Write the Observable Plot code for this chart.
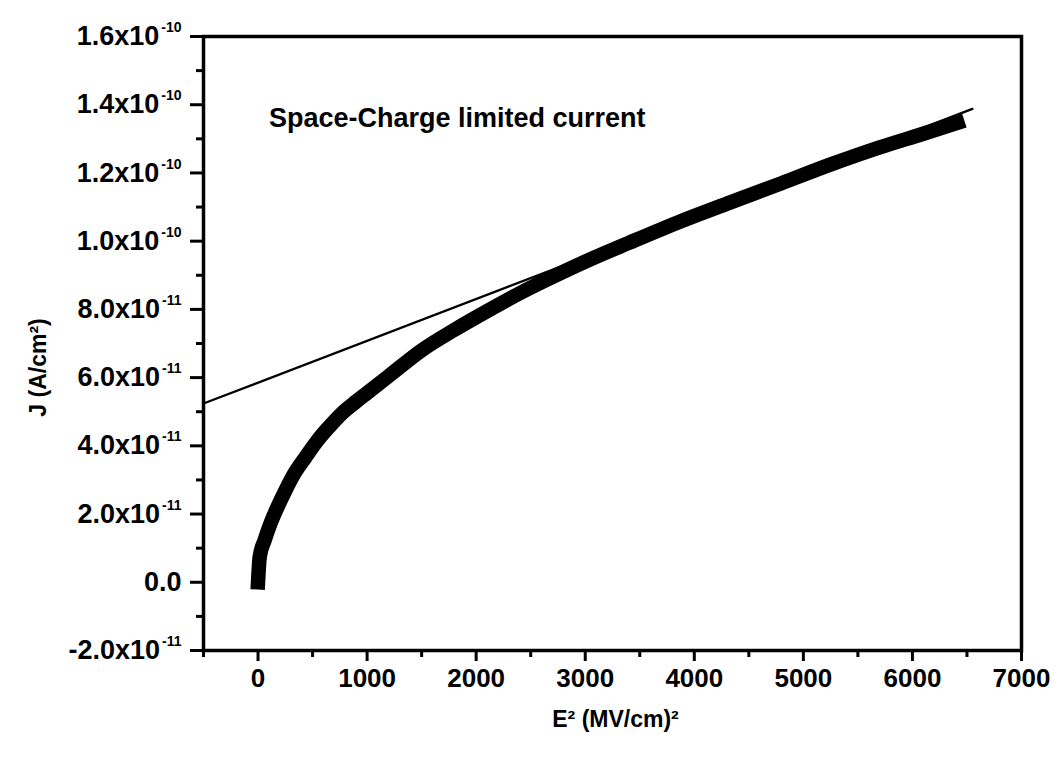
<!DOCTYPE html>
<html>
<head>
<meta charset="utf-8">
<script src="https://cdn.jsdelivr.net/npm/d3@7"></script>
<script src="https://cdn.jsdelivr.net/npm/@observablehq/plot@0.6"></script>
<style>
  html, body { margin: 0; padding: 0; background: #fff; }
  svg { font-family: "Liberation Sans", Arial, sans-serif; font-weight: bold; }
</style>
</head>
<body>
<div id="chart"></div>
<script>
// Measured data: E^2 in (MV/cm)^2, J in units of 1e-11 A/cm^2
const e2Values = [0, 15, 60, 115, 178, 252, 335, 436, 546, 650, 768, 900, 1000, 1200, 1500, 1800, 2100, 2415, 2700, 3000, 3400, 3850, 4300, 4800, 5252, 5700, 6100, 6413];
const jValues  = [0, 0.73, 1.23, 1.73, 2.2, 2.7, 3.2, 3.67, 4.16, 4.55, 4.95, 5.3, 5.55, 6.05, 6.8, 7.4, 7.95, 8.5, 8.95, 9.4, 9.95, 10.55, 11.1, 11.7, 12.25, 12.75, 13.15, 13.47];

// Linear fit (space-charge limited region)
const fitE2 = [-500, 6550];
const fitJ  = [5.24, 13.88];

// Axis ticks
const xTicks = [0, 1000, 2000, 3000, 4000, 5000, 6000, 7000];
const xTickLabels = ["0", "1000", "2000", "3000", "4000", "5000", "6000", "7000"];
const xMinorTicks = [-500, 500, 1500, 2500, 3500, 4500, 5500, 6500];
const yTicks = [-2, 0, 2, 4, 6, 8, 10, 12, 14, 16];
const yTickMantissas = ["-2.0x10", "0.0", "2.0x10", "4.0x10", "6.0x10", "8.0x10", "1.0x10", "1.2x10", "1.4x10", "1.6x10"];
const yTickExponents = ["-11", "", "-11", "-11", "-11", "-11", "-10", "-10", "-10", "-10"];
const yMinorTicks = [-1, 1, 3, 5, 7, 9, 11, 13, 15];

const annotation = [{x: 100, y: 13.6, text: "Space-Charge limited current"}];

const curve = e2Values.map((x, i) => ({x, y: jValues[i]}));
const fit = fitE2.map((x, i) => ({x, y: fitJ[i]}));

const plot = Plot.plot({
  width: 1055,
  height: 764,
  marginLeft: 203,
  marginRight: 34,
  marginTop: 36,
  marginBottom: 114,
  style: {background: "#fff", color: "#000", fontFamily: "'Liberation Sans', Arial, sans-serif", fontWeight: "bold"},
  x: {domain: [-500, 7000]},
  y: {domain: [-2, 16]},
  marks: [
    Plot.line(curve, {x: "x", y: "y", stroke: "#000", strokeWidth: 14.5, strokeLinecap: "square", strokeLinejoin: "round", curve: "monotone-x"}),
    Plot.line(fit, {x: "x", y: "y", stroke: "#000", strokeWidth: 2.3}),
    Plot.text(annotation, {x: "x", y: "y", text: "text", textAnchor: "start", fontSize: 27, fontWeight: "bold", fill: "#000"}),
    Plot.frame({stroke: "#000", strokeWidth: 3.5}),
    Plot.axisX(xTicks, {tickSize: 11, tickPadding: 7, strokeWidth: 3, fontSize: 26, fontWeight: "bold", label: null,
      tickFormat: (d) => xTickLabels[xTicks.indexOf(d)]}),
    Plot.axisX(xMinorTicks, {tickSize: 7, strokeWidth: 3, label: null, tickFormat: () => ""}),
    Plot.axisY(yTicks, {tickSize: 13, tickPadding: 9, strokeWidth: 3, fontSize: 27, fontWeight: "bold", label: null,
      tickFormat: (d) => { const i = yTicks.indexOf(d); return yTickMantissas[i] + "|" + yTickExponents[i]; }}),
    Plot.axisY(yMinorTicks, {tickSize: 7, strokeWidth: 3, label: null, tickFormat: () => ""}),
    Plot.text(["E² (MV/cm)²"], {frameAnchor: "bottom", dy: 76, dx: 3, fontSize: 23, fontWeight: "bold", fill: "#000"}),
    Plot.text(["J (A/cm²)"], {frameAnchor: "left", textAnchor: "middle", rotate: -90, dx: -165, dy: 24, fontSize: 23, fontWeight: "bold", fill: "#000"})
  ]
});

document.getElementById("chart").appendChild(plot);

// Turn "mantissa|exponent" tick labels into text with a superscript
d3.select(plot).selectAll("text").each(function () {
  const t = this.textContent;
  if (t.indexOf("|") < 0) return;
  const [m, e] = t.split("|");
  const sel = d3.select(this);
  sel.text(null);
  sel.append("tspan").text(m);
  if (e) {
    sel.append("tspan").attr("dx", 2).attr("dy", -13).attr("font-size", 14).text(e);
  }
});
</script>
</body>
</html>
